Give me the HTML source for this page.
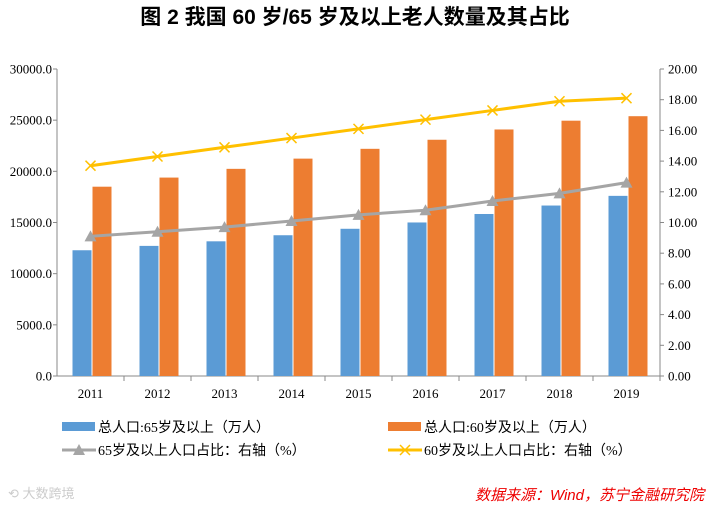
<!DOCTYPE html>
<html><head><meta charset="utf-8"><style>
body{margin:0;background:#fff;width:711px;height:506px;overflow:hidden;font-family:"Liberation Serif","Noto Serif CJK SC",serif}
</style></head><body>
<svg id="c" width="711" height="506" xmlns="http://www.w3.org/2000/svg">
<text x="355" y="24" text-anchor="middle" font-size="21" font-weight="bold" font-family="'Liberation Sans','Noto Sans CJK SC',sans-serif">图 2  我国 60 岁/65 岁及以上老人数量及其占比</text>
<g id="g"></g>
</svg>
<script>
const categories=["2011","2012","2013","2014","2015","2016","2017","2018","2019"];
const pop65=[12288,12714,13161,13755,14386,15003,15831,16658,17603];
const pop60=[18499,19390,20243,21242,22200,23086,24090,24949,25388];
const pct65=[9.1,9.4,9.7,10.1,10.5,10.8,11.4,11.9,12.6];
const pct60=[13.7,14.3,14.9,15.5,16.1,16.7,17.3,17.9,18.1];
const leftTicks=[0,5000,10000,15000,20000,25000,30000];
const rightTicks=[0,2,4,6,8,10,12,14,16,18,20];
const NS="http://www.w3.org/2000/svg";
const g=document.getElementById('g');
const X0=57,X1=660,Y0=376,Y1=69;
const bw=(X1-X0)/categories.length;
const yL=v=>Y0-(v/30000)*(Y0-Y1);
const yR=v=>Y0-(v/20)*(Y0-Y1);
const xC=i=>X0+bw*(i+0.5);
function el(t,a,txt){const e=document.createElementNS(NS,t);for(const k in a)e.setAttribute(k,a[k]);if(txt!==undefined)e.textContent=txt;g.appendChild(e);return e;}
let e;
e=el('line',{x1:X0,y1:Y1,x2:X0,y2:Y0,stroke:'#888'});


e=el('line',{x1:X1,y1:Y1,x2:X1,y2:Y0,stroke:'#888'});


e=el('line',{x1:X0,y1:Y0,x2:X1,y2:Y0,stroke:'#888'});


leftTicks.forEach(v=>{el('line',{x1:X0-4,y1:yL(v),x2:X0,y2:yL(v),stroke:'#888'});
e=el('text',{x:X0-5,y:yL(v)+4.5,'text-anchor':'end','font-size':13},v.toFixed(1));

});
rightTicks.forEach(v=>{el('line',{x1:X1,y1:yR(v),x2:X1+4,y2:yR(v),stroke:'#888'});
e=el('text',{x:X1+8,y:yR(v)+4.5,'font-size':13},v.toFixed(2));

});
categories.forEach((c,i)=>{
el('line',{x1:X0+bw*(i+1),y1:Y0,x2:X0+bw*(i+1),y2:Y0+5,stroke:'#888'});
e=el('text',{x:xC(i),y:Y0+22,'text-anchor':'middle','font-size':13},c);


e=el('rect',{x:xC(i)-18,y:yL(pop65[i]),width:19,height:Y0-yL(pop65[i]),fill:'#5b9bd5'});


e=el('rect',{x:xC(i)+2,y:yL(pop60[i]),width:19,height:Y0-yL(pop60[i]),fill:'#ed7d31'});


});
e=el('polyline',{points:pct65.map((v,i)=>xC(i)+','+yR(v)).join(' '),fill:'none',stroke:'#a5a5a5','stroke-width':3});


pct65.forEach((v,i)=>{const x=xC(i),y=yR(v);
e=el('polygon',{points:`${x-6},${y+5} ${x+6},${y+5} ${x},${y-6}`,fill:'#a5a5a5'});

});
e=el('polyline',{points:pct60.map((v,i)=>xC(i)+','+yR(v)).join(' '),fill:'none',stroke:'#ffc000','stroke-width':3});


pct60.forEach((v,i)=>{const x=xC(i),y=yR(v);
e=el('path',{d:`M${x-5},${y-5}L${x+5},${y+5}M${x-5},${y+5}L${x+5},${y-5}`,stroke:'#ffc000','stroke-width':1.5});

});
const lf="'Liberation Serif','Noto Sans CJK SC',serif";
e=el('rect',{x:62,y:422,width:33,height:9,fill:'#5b9bd5'});


e=el('text',{x:98,y:432,'font-size':14,'font-family':lf},'总人口:65岁及以上（万人）');


e=el('rect',{x:388,y:422,width:33,height:9,fill:'#ed7d31'});


e=el('text',{x:424,y:432,'font-size':14,'font-family':lf},'总人口:60岁及以上（万人）');


el('line',{x1:62,y1:450,x2:96,y2:450,stroke:'#a5a5a5','stroke-width':3});
e=el('polygon',{points:'73,455 85,455 79,444',fill:'#a5a5a5'});


e=el('text',{x:98,y:455,'font-size':14,'font-family':lf},'65岁及以上人口占比：右轴（%）');


el('line',{x1:388,y1:450,x2:422,y2:450,stroke:'#ffc000','stroke-width':3});
e=el('path',{d:'M400,445L410,455M400,455L410,445',stroke:'#ffc000','stroke-width':1.5});


e=el('text',{x:424,y:455,'font-size':14,'font-family':lf},'60岁及以上人口占比：右轴（%）');


e=el('text',{x:8,y:498,'font-size':13,fill:'#ccc','font-family':"'Liberation Sans','Noto Sans CJK SC',sans-serif"},'⟲ 大数跨境');


e=el('text',{x:704,y:500,'text-anchor':'end','font-size':15,fill:'#e00','font-style':'italic','font-family':"'Liberation Sans','Noto Sans CJK SC',sans-serif"},'数据来源：Wind，苏宁金融研究院');


</script>
</body></html>
